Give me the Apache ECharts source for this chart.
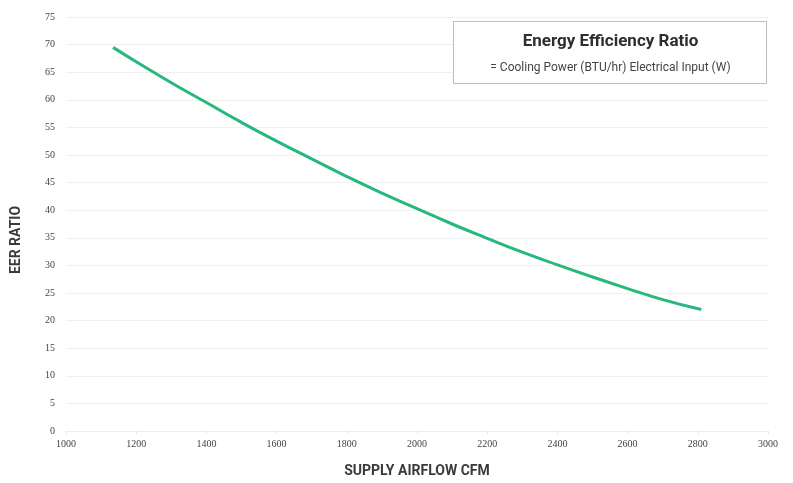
<!DOCTYPE html>
<html>
<head>
<meta charset="utf-8">
<script src="https://cdn.jsdelivr.net/npm/echarts@6/dist/echarts.min.js"></script>
<style>html,body{margin:0;padding:0;background:#fff;overflow:hidden;}#c{width:793px;height:483px;}</style>
</head>
<body>
<div id="c"></div>
<script>
// Data
const airflowCfm = [1134, 1200, 1300, 1400, 1500, 1600, 1700, 1800, 1900, 2000, 2100, 2200, 2300, 2400, 2500, 2600, 2700, 2810];
const eerRatio   = [69.5, 66.9, 63.1, 59.5, 55.9, 52.5, 49.3, 46.1, 43.1, 40.3, 37.5, 34.9, 32.4, 30.1, 27.9, 25.8, 23.8, 22.0];
const yTicks = [0, 5, 10, 15, 20, 25, 30, 35, 40, 45, 50, 55, 60, 65, 70, 75];
const xTicks = [1000, 1200, 1400, 1600, 1800, 2000, 2200, 2400, 2600, 2800, 3000];
const yTitle = 'EER RATIO';
const xTitle = 'SUPPLY AIRFLOW CFM';
const boxTitle = 'Energy Efficiency Ratio';
const boxSub = '= Cooling Power (BTU/hr) Electrical Input (W)';

const condensed = "Roboto, 'Liberation Sans', sans-serif";
const serif = "'Liberation Serif', 'DejaVu Serif', serif";

const chart = echarts.init(document.getElementById('c'), null, {renderer: 'canvas'});
chart.setOption({
  animation: false,
  backgroundColor: '#fff',
  grid: {left: 66, right: 25, top: 17, bottom: 43, containLabel: false},
  xAxis: {
    type: 'value',
    min: xTicks[0], max: xTicks[xTicks.length - 1], interval: 200,
    name: xTitle, nameLocation: 'middle', nameGap: 33,
    nameTextStyle: {fontFamily: condensed, fontWeight: 'bold', fontSize: 14, color: '#3a3a3a'},
    axisLine: {show: true, lineStyle: {color: '#eeeeee'}},
    axisTick: {show: true, length: 3, lineStyle: {color: '#e6e6e6'}},
    axisLabel: {fontFamily: serif, fontSize: 10, color: '#444', margin: 8,
                formatter: v => String(v)},
    splitLine: {show: false}
  },
  yAxis: {
    type: 'value',
    min: yTicks[0], max: yTicks[yTicks.length - 1], interval: 5,
    axisLine: {show: false},
    axisTick: {show: false},
    axisLabel: {fontFamily: serif, fontSize: 10, color: '#444', margin: 11},
    splitLine: {show: true, lineStyle: {color: '#f0f0f0', width: 1}}
  },
  series: [{
    type: 'line',
    data: airflowCfm.map((x, i) => [x, eerRatio[i]]),
    smooth: true,
    showSymbol: false,
    lineStyle: {color: '#27b87d', width: 3}
  }],
  graphic: [
    {type: 'text', x: 16, y: 240, rotation: Math.PI / 2, z: 100,
     style: {text: yTitle, align: 'center', verticalAlign: 'middle',
             fontFamily: condensed, fontWeight: 'bold', fontSize: 14, fill: '#3a3a3a'}},
    {
    type: 'group', left: 453, top: 21, z: 100,
    children: [
      {type: 'rect', z: 100, shape: {x: 0, y: 0, width: 313, height: 62},
       style: {fill: '#fff', stroke: '#bdbdbd', lineWidth: 1}},
      {type: 'text', z: 101, x: 157, y: 20,
       style: {text: boxTitle, align: 'center', verticalAlign: 'middle',
               fontFamily: condensed, fontWeight: 'bold', fontSize: 17, fill: '#2e2e2e'}},
      {type: 'text', z: 101, x: 157, y: 46,
       style: {text: boxSub, align: 'center', verticalAlign: 'middle',
               fontFamily: condensed, fontSize: 12, fill: '#444'}}
    ]
  }]
});
</script>
</body>
</html>
